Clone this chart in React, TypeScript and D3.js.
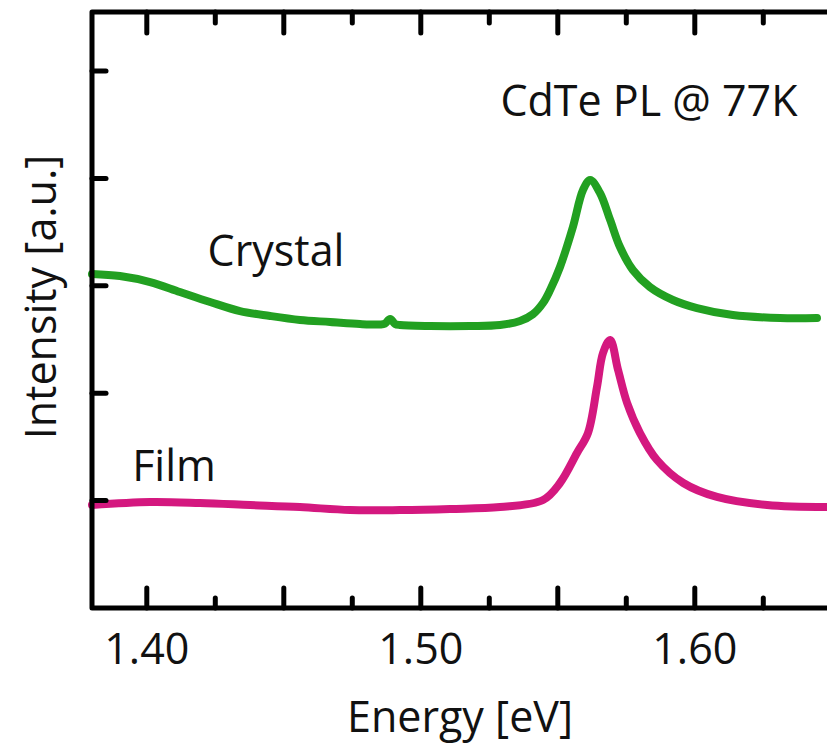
import React from "react";
import * as d3 from "d3";

type Pt = { e: number; v: number };

// energy (eV) and intensity (a.u., offset)
const crystalE = [1.38, 1.3902, 1.4012, 1.4121, 1.4231, 1.434, 1.445, 1.4559, 1.4669, 1.4778, 1.4851, 1.4869, 1.4888, 1.4906, 1.4924, 1.5034, 1.518, 1.5289, 1.5362, 1.5409, 1.5446, 1.5472, 1.5508, 1.5555, 1.5592, 1.5618, 1.5654, 1.5691, 1.5727, 1.5774, 1.5836, 1.592, 1.6008, 1.6139, 1.6311, 1.6446];
const crystalV = [3.11, 3.091, 3.035, 2.942, 2.849, 2.765, 2.719, 2.682, 2.663, 2.644, 2.64, 2.648, 2.691, 2.645, 2.635, 2.626, 2.626, 2.635, 2.672, 2.735, 2.84, 2.961, 3.175, 3.547, 3.892, 3.985, 3.864, 3.613, 3.361, 3.147, 2.989, 2.868, 2.793, 2.728, 2.7, 2.7];

const filmE = [1.38, 1.4012, 1.4194, 1.4377, 1.4559, 1.4742, 1.4924, 1.5107, 1.5289, 1.5446, 1.5508, 1.557, 1.561, 1.5643, 1.5665, 1.5691, 1.572, 1.5753, 1.58, 1.5862, 1.5958, 1.6081, 1.6264, 1.6482];
const filmV = [0.959, 0.987, 0.978, 0.959, 0.94, 0.912, 0.912, 0.922, 0.94, 1.006, 1.164, 1.443, 1.629, 2.058, 2.374, 2.495, 2.216, 1.909, 1.629, 1.378, 1.164, 1.034, 0.959, 0.94];

const majorX = [1.4, 1.45, 1.5, 1.55, 1.6, 1.65];
const minorX = [1.425, 1.475, 1.525, 1.575, 1.625];
const labelX = [1.4, 1.5, 1.6];
const yTicks = [1, 2, 3, 4, 5];

const crystal: Pt[] = crystalE.map((e, i) => ({ e, v: crystalV[i] }));
const film: Pt[] = filmE.map((e, i) => ({ e, v: filmV[i] }));

const W = 827;
const H = 744;
const left = 92;
const top = 12;
const bottom = 608;

export default function App() {
  const x = d3.scaleLinear().domain([1.38, 1.65]).range([left, left + 0.27 * 2740]);
  const y = d3.scaleLinear().domain([0, (bottom - top) / 107.4]).range([bottom, top]);

  const line = d3
    .line<Pt>()
    .x((d) => x(d.e))
    .y((d) => y(d.v))
    .curve(d3.curveCatmullRom.alpha(0.5));

  const font = "'Open Sans', 'Noto Sans', sans-serif";
  const fs = 43;
  const right = x(1.65);

  return (
    <svg width={W} height={H} style={{ position: "absolute", left: 0, top: 0, background: "#fff" }}>
      <path d={line(crystal) ?? ""} fill="none" stroke="#22a021" strokeWidth={8} strokeLinecap="round" strokeLinejoin="round" />
      <path d={line(film) ?? ""} fill="none" stroke="#d4187f" strokeWidth={8} strokeLinecap="round" strokeLinejoin="round" />

      {/* frame */}
      <path
        d={`M${right},${top} H${left} V${bottom} H${right}`}
        fill="none"
        stroke="#000"
        strokeWidth={5}
        strokeLinejoin="round"
      />
      {majorX.map((t) => (
        <g key={"M" + t}>
          <line x1={x(t)} x2={x(t)} y1={bottom} y2={bottom - 20} stroke="#000" strokeWidth={5} strokeLinecap="round" />
          <line x1={x(t)} x2={x(t)} y1={top} y2={top + 21} stroke="#000" strokeWidth={5} strokeLinecap="round" />
        </g>
      ))}
      {minorX.map((t) => (
        <g key={"m" + t}>
          <line x1={x(t)} x2={x(t)} y1={bottom} y2={bottom - 10} stroke="#000" strokeWidth={5} strokeLinecap="round" />
          <line x1={x(t)} x2={x(t)} y1={top} y2={top + 11} stroke="#000" strokeWidth={5} strokeLinecap="round" />
        </g>
      ))}
      {yTicks.map((t) => (
        <line key={t} x1={left} x2={left + 14} y1={y(t)} y2={y(t)} stroke="#000" strokeWidth={5} strokeLinecap="round" />
      ))}
      {labelX.map((t) => (
        <text key={t} x={x(t)} y={664} textAnchor="middle" fontFamily={font} fontSize={fs} fill="#111">
          {t.toFixed(2)}
        </text>
      ))}
      <text x={460} y={732} textAnchor="middle" fontFamily={font} fontSize={fs} fill="#111">
        Energy [eV]
      </text>
      <text
        transform={`translate(56,${297}) rotate(-90)`}
        textAnchor="middle"
        fontFamily={font}
        fontSize={fs}
        fill="#111"
      >
        Intensity [a.u.]
      </text>
      <text x={649} y={116} textAnchor="middle" fontFamily={font} fontSize={fs} fill="#111">
        CdTe PL @ 77K
      </text>
      <text x={276} y={266} textAnchor="middle" fontFamily={font} fontSize={fs} fill="#111">
        Crystal
      </text>
      <text x={174} y={481} textAnchor="middle" fontFamily={font} fontSize={fs} fill="#111">
        Film
      </text>
    </svg>
  );
}
